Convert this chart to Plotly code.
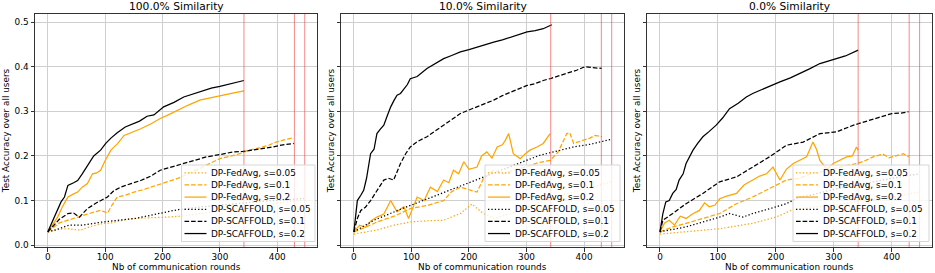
import plotly.graph_objects as go

panel_titles = ["100.0% Similarity", "10.0% Similarity", "0.0% Similarity"]
series_names = ["DP-FedAvg, s=0.05", "DP-FedAvg, s=0.1", "DP-FedAvg, s=0.2",
                "DP-SCAFFOLD, s=0.05", "DP-SCAFFOLD, s=0.1", "DP-SCAFFOLD, s=0.2"]
x_axis_title = "Nb of communication rounds"
y_axis_title = "Test Accuracy over all users"
cutoff_rounds = [342, 430, 448]
x_ticks = [0, 100, 200, 300, 400]
y_ticks = [0.0, 0.1, 0.2, 0.3, 0.4, 0.5]

# ---------------- Panel 1 : 100% similarity ----------------
p1_fedavg_005_x = [0, 10, 20, 35, 45, 58, 70, 92, 110, 130, 150, 180, 208, 240, 265, 300, 340, 380, 420, 447]
p1_fedavg_005_y = [0.03, 0.032, 0.036, 0.037, 0.035, 0.034, 0.04, 0.048, 0.05, 0.056, 0.06, 0.061, 0.063, 0.066, 0.071, 0.078, 0.085, 0.091, 0.097, 0.102]
p1_fedavg_01_x = [0, 10, 20, 35, 50, 69, 80, 92, 104, 112, 121, 135, 150, 165, 179, 200, 225, 245, 265, 285, 300, 320, 335, 350, 369, 385, 398, 412, 426]
p1_fedavg_01_y = [0.03, 0.04, 0.05, 0.056, 0.062, 0.071, 0.074, 0.078, 0.072, 0.09, 0.108, 0.112, 0.119, 0.124, 0.13, 0.138, 0.149, 0.16, 0.172, 0.185, 0.194, 0.2, 0.205, 0.213, 0.218, 0.224, 0.231, 0.236, 0.24]
p1_fedavg_02_x = [0, 8, 17, 25, 35, 45, 52, 60, 69, 78, 85, 92, 100, 110, 122, 133, 145, 162, 180, 196, 210, 225, 245, 265, 285, 300, 320, 342]
p1_fedavg_02_y = [0.03, 0.045, 0.063, 0.085, 0.108, 0.115, 0.119, 0.13, 0.138, 0.16, 0.162, 0.168, 0.19, 0.213, 0.228, 0.246, 0.252, 0.261, 0.272, 0.284, 0.292, 0.302, 0.314, 0.325, 0.331, 0.335, 0.34, 0.346]
p1_scaffold_005_x = [0, 15, 37, 60, 95, 125, 153, 190, 228, 260, 300, 340, 380, 420, 447]
p1_scaffold_005_y = [0.03, 0.035, 0.045, 0.045, 0.052, 0.056, 0.06, 0.07, 0.08, 0.085, 0.09, 0.095, 0.099, 0.102, 0.105]
p1_scaffold_01_x = [0, 10, 20, 35, 45, 55, 69, 85, 104, 115, 127, 145, 162, 180, 196, 215, 237, 257, 277, 300, 323, 340, 358, 375, 392, 410, 429]
p1_scaffold_01_y = [0.03, 0.045, 0.058, 0.071, 0.072, 0.063, 0.082, 0.095, 0.108, 0.122, 0.13, 0.138, 0.145, 0.155, 0.168, 0.175, 0.183, 0.19, 0.198, 0.203, 0.209, 0.21, 0.213, 0.216, 0.22, 0.225, 0.228]
p1_scaffold_02_x = [0, 5, 12, 23, 29, 35, 45, 52, 60, 70, 80, 92, 101, 110, 121, 135, 150, 160, 173, 185, 202, 220, 237, 255, 270, 285, 300, 320, 342]
p1_scaffold_02_y = [0.03, 0.045, 0.063, 0.097, 0.108, 0.134, 0.14, 0.145, 0.16, 0.18, 0.2, 0.213, 0.228, 0.24, 0.252, 0.265, 0.272, 0.278, 0.289, 0.292, 0.31, 0.32, 0.332, 0.34, 0.346, 0.352, 0.356, 0.362, 0.369]

# ---------------- Panel 2 : 10% similarity ----------------
p2_fedavg_005_x = [0, 20, 40, 70, 98, 130, 156, 185, 205, 225, 243, 270, 300, 350, 400, 447]
p2_fedavg_005_y = [0.025, 0.03, 0.034, 0.045, 0.052, 0.055, 0.056, 0.071, 0.092, 0.071, 0.06, 0.07, 0.085, 0.108, 0.125, 0.142]
p2_fedavg_01_x = [0, 20, 40, 70, 98, 130, 156, 170, 185, 200, 214, 225, 243, 260, 280, 300, 320, 341, 355, 370, 375, 382, 399, 410, 419, 431]
p2_fedavg_01_y = [0.03, 0.04, 0.052, 0.065, 0.082, 0.09, 0.1, 0.12, 0.13, 0.125, 0.119, 0.149, 0.168, 0.16, 0.17, 0.175, 0.185, 0.19, 0.209, 0.25, 0.252, 0.228, 0.235, 0.24, 0.246, 0.243]
p2_fedavg_02_x = [0, 10, 20, 30, 40, 52, 64, 75, 87, 95, 110, 122, 133, 145, 156, 165, 173, 182, 191, 200, 214, 222, 231, 240, 249, 258, 263, 269, 277, 289, 298, 306, 318, 329, 341]
p2_fedavg_02_y = [0.03, 0.045, 0.04, 0.055, 0.063, 0.07, 0.1, 0.075, 0.086, 0.06, 0.108, 0.1, 0.13, 0.12, 0.146, 0.14, 0.168, 0.16, 0.187, 0.17, 0.175, 0.2, 0.209, 0.195, 0.22, 0.225, 0.235, 0.25, 0.205, 0.194, 0.205, 0.213, 0.22, 0.228, 0.25]
p2_scaffold_005_x = [0, 35, 80, 120, 150, 190, 237, 280, 323, 350, 381, 410, 447]
p2_scaffold_005_y = [0.03, 0.056, 0.08, 0.1, 0.116, 0.135, 0.16, 0.18, 0.2015, 0.21, 0.22, 0.226, 0.237]
p2_scaffold_01_x = [0, 6, 12, 20, 29, 40, 52, 60, 69, 81, 90, 98, 110, 127, 140, 156, 170, 185, 200, 214, 230, 243, 258, 272, 287, 301, 315, 329, 343, 358, 372, 387, 402, 415, 431]
p2_scaffold_01_y = [0.03, 0.06, 0.078, 0.085, 0.1, 0.123, 0.146, 0.15, 0.146, 0.183, 0.205, 0.22, 0.232, 0.243, 0.255, 0.269, 0.282, 0.295, 0.303, 0.31, 0.318, 0.325, 0.335, 0.343, 0.35, 0.358, 0.362, 0.369, 0.374, 0.381, 0.386, 0.392, 0.4, 0.398, 0.396]
p2_scaffold_02_x = [0, 3, 6, 12, 17, 22, 29, 35, 40, 46, 52, 58, 64, 70, 75, 81, 87, 93, 98, 110, 127, 140, 156, 170, 185, 200, 214, 230, 243, 258, 272, 287, 301, 315, 329, 344]
p2_scaffold_02_y = [0.03, 0.07, 0.1, 0.112, 0.123, 0.15, 0.205, 0.215, 0.25, 0.26, 0.269, 0.29, 0.31, 0.325, 0.336, 0.34, 0.351, 0.36, 0.373, 0.378, 0.396, 0.405, 0.418, 0.425, 0.433, 0.438, 0.444, 0.45, 0.455, 0.46, 0.466, 0.472, 0.478, 0.481, 0.485, 0.494]

# ---------------- Panel 3 : 0% similarity ----------------
p3_fedavg_005_x = [0, 45, 103, 160, 200, 230, 260, 300, 350, 400, 447]
p3_fedavg_005_y = [0.025, 0.03, 0.037, 0.049, 0.063, 0.08, 0.085, 0.09, 0.1, 0.108, 0.119]
p3_fedavg_01_x = [0, 20, 45, 75, 103, 132, 160, 189, 218, 240, 260, 280, 300, 320, 340, 355, 368, 385, 395, 409, 420, 429]
p3_fedavg_01_y = [0.03, 0.04, 0.049, 0.06, 0.071, 0.093, 0.108, 0.127, 0.146, 0.15, 0.16, 0.165, 0.172, 0.178, 0.183, 0.19, 0.198, 0.204, 0.196, 0.2015, 0.205, 0.198]
p3_fedavg_02_x = [0, 8, 16, 25, 35, 45, 56, 68, 77, 85, 95, 103, 115, 132, 145, 160, 172, 184, 195, 207, 218, 230, 242, 253, 264, 270, 276, 288, 299, 310, 322, 332, 339, 342]
p3_fedavg_02_y = [0.03, 0.05, 0.056, 0.045, 0.065, 0.06, 0.07, 0.078, 0.095, 0.086, 0.09, 0.104, 0.11, 0.116, 0.135, 0.146, 0.155, 0.16, 0.175, 0.146, 0.17, 0.183, 0.19, 0.198, 0.231, 0.215, 0.19, 0.17, 0.183, 0.19, 0.198, 0.2, 0.22, 0.213]
p3_scaffold_005_x = [0, 45, 103, 120, 143, 160, 190, 218, 241, 253, 300, 350, 400, 447]
p3_scaffold_005_y = [0.03, 0.041, 0.063, 0.071, 0.063, 0.071, 0.082, 0.093, 0.108, 0.11, 0.125, 0.138, 0.15, 0.16]
p3_scaffold_01_x = [0, 5, 22, 45, 74, 103, 132, 160, 189, 218, 247, 276, 305, 334, 362, 380, 400, 415, 429]
p3_scaffold_01_y = [0.03, 0.056, 0.071, 0.093, 0.116, 0.142, 0.153, 0.175, 0.198, 0.224, 0.231, 0.25, 0.254, 0.269, 0.28, 0.287, 0.295, 0.296, 0.299]
p3_scaffold_02_x = [0, 3, 5, 10, 16, 22, 28, 33, 40, 45, 51, 57, 65, 74, 85, 97, 108, 120, 135, 149, 160, 172, 190, 207, 225, 241, 258, 276, 290, 305, 320, 342]
p3_scaffold_02_y = [0.03, 0.06, 0.071, 0.097, 0.1, 0.116, 0.125, 0.146, 0.16, 0.183, 0.2, 0.213, 0.228, 0.243, 0.255, 0.269, 0.285, 0.306, 0.318, 0.332, 0.34, 0.347, 0.357, 0.366, 0.375, 0.384, 0.395, 0.407, 0.412, 0.418, 0.424, 0.437]

panels = [
    [(p1_fedavg_005_x, p1_fedavg_005_y), (p1_fedavg_01_x, p1_fedavg_01_y), (p1_fedavg_02_x, p1_fedavg_02_y),
     (p1_scaffold_005_x, p1_scaffold_005_y), (p1_scaffold_01_x, p1_scaffold_01_y), (p1_scaffold_02_x, p1_scaffold_02_y)],
    [(p2_fedavg_005_x, p2_fedavg_005_y), (p2_fedavg_01_x, p2_fedavg_01_y), (p2_fedavg_02_x, p2_fedavg_02_y),
     (p2_scaffold_005_x, p2_scaffold_005_y), (p2_scaffold_01_x, p2_scaffold_01_y), (p2_scaffold_02_x, p2_scaffold_02_y)],
    [(p3_fedavg_005_x, p3_fedavg_005_y), (p3_fedavg_01_x, p3_fedavg_01_y), (p3_fedavg_02_x, p3_fedavg_02_y),
     (p3_scaffold_005_x, p3_scaffold_005_y), (p3_scaffold_01_x, p3_scaffold_01_y), (p3_scaffold_02_x, p3_scaffold_02_y)],
]

ORANGE = "#FFA500"
BLACK = "#000000"
DOT = "1.3px,2.1px"
DASH = "4.6px,2px"
styles = [(ORANGE, DOT), (ORANGE, DASH), (ORANGE, "solid"),
          (BLACK, DOT), (BLACK, DASH), (BLACK, "solid")]

FONT = "DejaVu Sans"
FS = 8.9
FS_TITLE = 10.7
W, H = 935, 273
ML, MR, MT, MB = 35, 3, 14, 26
PW = W - ML - MR
PH = H - MT - MB
px_domains = [(35, 317), (341, 624), (647, 932)]
domains = [((a - ML) / PW, min(1.0, (b - ML) / PW)) for a, b in px_domains]


def px_x(px):
    return (px - ML) / PW


def px_y(py):
    return (MT + PH - py) / PH


# legend boxes in pixel terms (left, right), shared top/bottom
legend_boxes = [(181.5, 315), (485, 620), (793, 929)]
LEG_TOP, LEG_BOT = 165, 241.5
ROW0, ROW_STEP = 172.8, 12.15

fig = go.Figure()
shapes = []
annotations = []
for pi, series in enumerate(panels):
    xa = "x" if pi == 0 else f"x{pi+1}"
    ya = "y" if pi == 0 else f"y{pi+1}"
    for si, (xs, ys) in enumerate(series):
        color, dash = styles[si]
        fig.add_trace(go.Scatter(
            x=xs, y=ys, mode="lines", name=series_names[si],
            line=dict(color=color, dash=dash, width=1.25),
            xaxis=xa, yaxis=ya, showlegend=False))
    for c in cutoff_rounds:
        shapes.append(dict(type="line", xref=xa, yref=f"{ya} domain", x0=c, x1=c, y0=0, y1=1,
                           line=dict(color="rgba(240,60,60,0.6)", width=1)))
    # legend (drawn as layout decoration)
    lx0, lx1 = legend_boxes[pi]
    shapes.append(dict(type="rect", xref="paper", yref="paper",
                       x0=px_x(lx0), x1=px_x(lx1), y0=px_y(LEG_BOT), y1=px_y(LEG_TOP),
                       fillcolor="rgba(255,255,255,0.8)", line=dict(color="#d6d6d6", width=1)))
    for si, name in enumerate(series_names):
        color, dash = styles[si]
        ry = ROW0 + si * ROW_STEP
        shapes.append(dict(type="line", xref="paper", yref="paper",
                           x0=px_x(lx0 + 3), x1=px_x(lx0 + 25), y0=px_y(ry), y1=px_y(ry),
                           line=dict(color=color, dash=dash, width=1.25)))
        annotations.append(dict(text=name, xref="paper", yref="paper",
                                x=px_x(lx0 + 27.5), y=px_y(ry), xanchor="left", yanchor="middle",
                                showarrow=False, font=dict(size=FS, family=FONT, color="#000")))
    a, b = px_domains[pi]
    annotations.append(dict(
        text=panel_titles[pi], xref="paper", yref="paper",
        x=px_x((a + b) / 2), y=1, xanchor="center", yanchor="bottom",
        yshift=-1, showarrow=False, font=dict(size=FS_TITLE, family=FONT)))
    annotations.append(dict(
        text=x_axis_title, xref="paper", yref="paper",
        x=px_x((a + b) / 2), y=px_y(267), xanchor="center", yanchor="middle",
        showarrow=False, font=dict(size=FS, family=FONT)))

layout = dict(
    width=W, height=H, margin=dict(l=ML, r=MR, t=MT, b=MB),
    paper_bgcolor="white", plot_bgcolor="white",
    font=dict(family=FONT, size=FS, color="#000"),
    showlegend=False,
)
for pi in range(3):
    sfx = "" if pi == 0 else str(pi + 1)
    layout["xaxis" + sfx] = dict(
        domain=list(domains[pi]), range=[-22.4, 469.4], anchor="y" + sfx,
        tickvals=x_ticks, ticks="outside", ticklen=3.5, tickcolor="#333",
        ticklabelstandoff=-2,
        showgrid=True, gridcolor="#cfcfcf", gridwidth=1, zeroline=False,
        showline=True, linecolor="#333", linewidth=1, mirror=True,
        tickfont=dict(size=FS), automargin=False)
    layout["yaxis" + sfx] = dict(
        domain=[0, 1], range=[-0.004, 0.518], anchor="x" + sfx,
        tickvals=y_ticks, ticktext=[f"{v:.1f}" for v in y_ticks],
        showticklabels=(pi == 0), ticks="outside", ticklen=3.5, tickcolor="#333",
        showgrid=True, gridcolor="#cfcfcf", gridwidth=1, zeroline=False,
        showline=True, linecolor="#333", linewidth=1, mirror=True,
        title=dict(text=y_axis_title, font=dict(size=FS), standoff=3 if pi == 0 else 0),
        tickfont=dict(size=FS), automargin=False)

fig.update_layout(**layout)
fig.update_layout(shapes=shapes, annotations=annotations)

fig.write_html("out.html", config={"displayModeBar": False},
               post_script="document.body.style.margin='0px';document.body.style.overflow='hidden';")
